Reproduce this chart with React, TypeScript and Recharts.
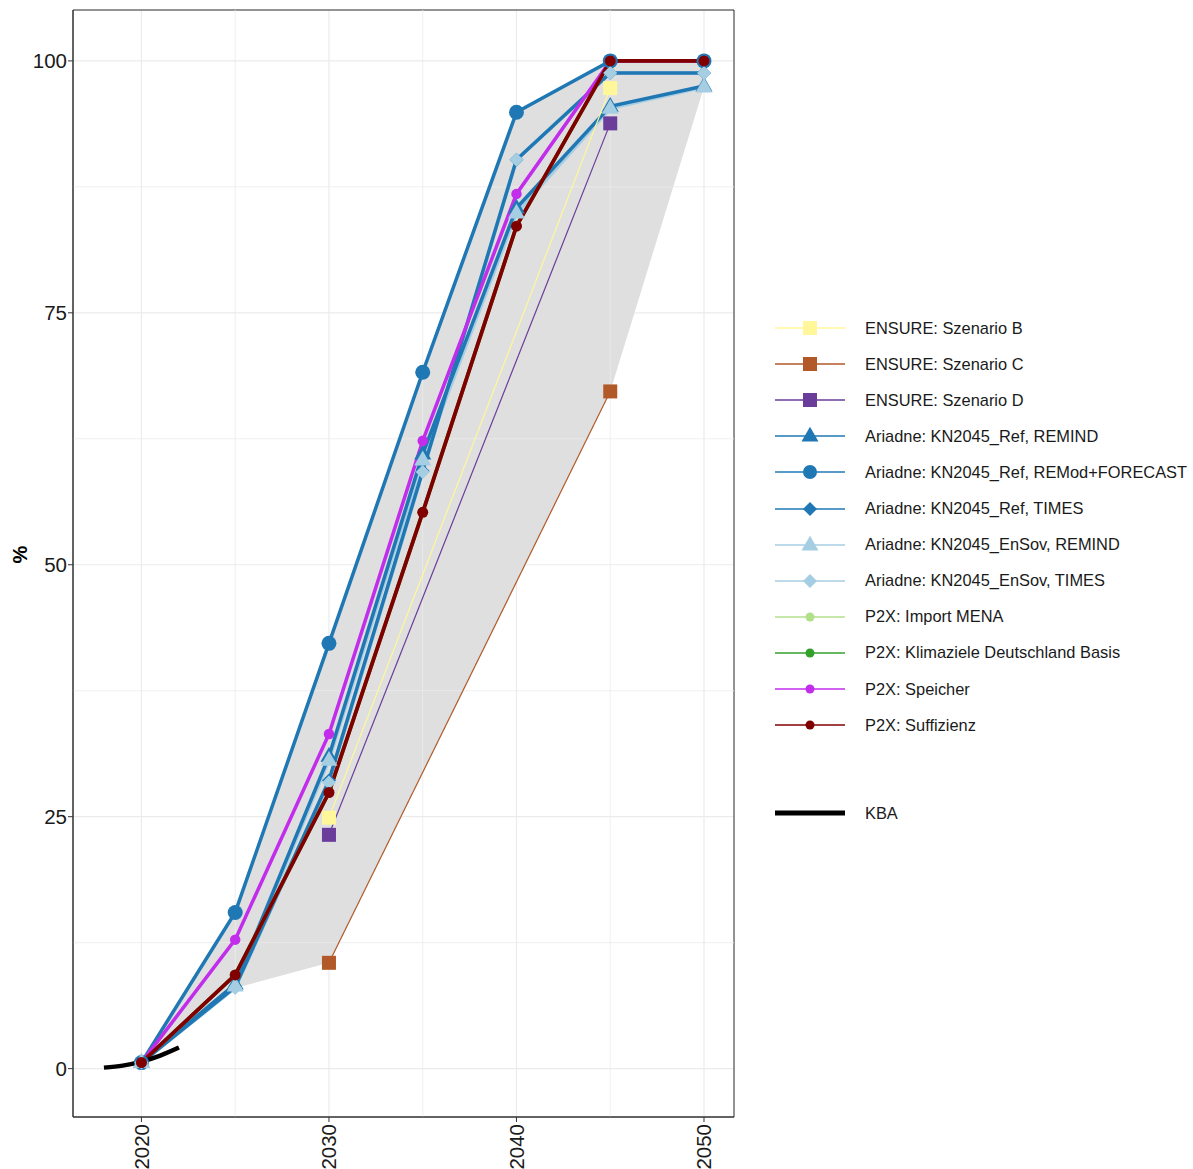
import React from 'react';
import {
  ComposedChart,
  Line,
  Area,
  XAxis,
  YAxis,
  CartesianGrid,
  ReferenceLine,
  ReferenceArea,
} from 'recharts';

const YEARS = [2020, 2025, 2030, 2035, 2040, 2045, 2050];
const ENSURE_YEARS = [2030, 2045];
const KBA_YEARS = [2018, 2019, 2020, 2021, 2022];

const ensureB = [24.9, 97.3];
const ensureC = [10.5, 67.2];
const ensureD = [23.2, 93.8];

const refRemind = [0.6, 8.4, 31.0, 61.0, 85.4, 95.5, 97.5];
const refRemod = [0.6, 15.5, 42.2, 69.1, 94.9, 100, 100];
const refTimes = [0.6, 8.1, 28.6, 59.3, 90.2, 98.8, 98.8];
const ensovRemind = [0.6, 8.2, 30.6, 60.4, 84.9, 95.3, 97.4];
const ensovTimes = [0.6, 8.0, 28.4, 59.2, 90.2, 98.8, 98.8];

const p2xMena = [0.6, 9.3, 27.4, 55.2, 83.6, 100, 100];
const p2xKlima = [0.6, 9.3, 27.4, 55.2, 83.6, 100, 100];
const p2xSpeicher = [0.6, 12.8, 33.2, 62.3, 86.8, 100, 100];
const p2xSuffizienz = [0.6, 9.3, 27.4, 55.2, 83.6, 100, 100];

const kba = [0.1, 0.3, 0.7, 1.3, 2.1];

const ribbonLow = [0.6, 8.0, 10.5, 29.4, 48.3, 67.2, 97.4];
const ribbonHigh = [0.6, 15.5, 42.2, 69.1, 94.9, 100, 100];

const X_TICKS = [2020, 2030, 2040, 2050];
const X_MINOR = [2025, 2035, 2045];
const Y_TICKS = [0, 25, 50, 75, 100];
const Y_MINOR = [12.5, 37.5, 62.5, 87.5];

const X_DOMAIN: [number, number] = [2016.35, 2051.6];
const Y_DOMAIN: [number, number] = [-4.8, 105.05];

const FONT = '"Liberation Sans", Arial, sans-serif';
const DARK_BLUE = '#1F78B4';
const LIGHT_BLUE = '#A6CEE3';

type Shape = 'square' | 'circle' | 'triangle' | 'diamond' | 'dot';

interface Series {
  name: string;
  years: number[];
  values: number[];
  color: string;
  shape: Shape;
  size: number;
  width: number;
}

const pts = (years: number[], values: number[]) => years.map((x, i) => ({ x, y: values[i] }));

const ensure: Series[] = [
  { name: 'ENSURE: Szenario B', years: ENSURE_YEARS, values: ensureB, color: '#FFF799', shape: 'square', size: 14, width: 1.2 },
  { name: 'ENSURE: Szenario C', years: ENSURE_YEARS, values: ensureC, color: '#B15928', shape: 'square', size: 14, width: 1.2 },
  { name: 'ENSURE: Szenario D', years: ENSURE_YEARS, values: ensureD, color: '#6A3D9A', shape: 'square', size: 14, width: 1.2 },
];

const ariadneRef: Series[] = [
  { name: 'Ariadne: KN2045_Ref, REMIND', years: YEARS, values: refRemind, color: DARK_BLUE, shape: 'triangle', size: 17, width: 3.5 },
  { name: 'Ariadne: KN2045_Ref, REMod+FORECAST', years: YEARS, values: refRemod, color: DARK_BLUE, shape: 'circle', size: 15, width: 3.5 },
  { name: 'Ariadne: KN2045_Ref, TIMES', years: YEARS, values: refTimes, color: DARK_BLUE, shape: 'diamond', size: 14, width: 3.5 },
];

const ariadneEnsov: Series[] = [
  { name: 'Ariadne: KN2045_EnSov, REMIND', years: YEARS, values: ensovRemind, color: LIGHT_BLUE, shape: 'triangle', size: 17, width: 3.5 },
  { name: 'Ariadne: KN2045_EnSov, TIMES', years: YEARS, values: ensovTimes, color: LIGHT_BLUE, shape: 'diamond', size: 14, width: 3.5 },
];

const p2x: Series[] = [
  { name: 'P2X: Import MENA', years: YEARS, values: p2xMena, color: '#B2DF8A', shape: 'dot', size: 10, width: 3.5 },
  { name: 'P2X: Klimaziele Deutschland Basis', years: YEARS, values: p2xKlima, color: '#33A02C', shape: 'dot', size: 10, width: 3.5 },
  { name: 'P2X: Speicher', years: YEARS, values: p2xSpeicher, color: '#C22DEB', shape: 'dot', size: 10.5, width: 3.5 },
  { name: 'P2X: Suffizienz', years: YEARS, values: p2xSuffizienz, color: '#800000', shape: 'dot', size: 11, width: 3.8 },
];

const lineOrder = [...ariadneEnsov, ...ariadneRef, ...ensure, ...p2x];
const markerOrder = [...ensure, ...ariadneRef, ...ariadneEnsov, ...p2x];
const legendOrder = [...ensure, ...ariadneRef, ...ariadneEnsov, ...p2x];

const ribbon = YEARS.map((x, i) => ({ x, range: [ribbonLow[i], ribbonHigh[i]] }));

function Marker({ cx, cy, shape, color, size }: { cx?: number; cy?: number; shape: Shape; color: string; size: number }) {
  if (cx == null || cy == null) return null;
  const s = size / 2;
  if (shape === 'square') return <rect x={cx - s} y={cy - s} width={size} height={size} fill={color} />;
  if (shape === 'triangle')
    return <polygon points={`${cx},${cy - s * 1.1} ${cx - s},${cy + s * 0.65} ${cx + s},${cy + s * 0.65}`} fill={color} />;
  if (shape === 'diamond')
    return <polygon points={`${cx},${cy - s} ${cx + s},${cy} ${cx},${cy + s} ${cx - s},${cy}`} fill={color} />;
  return <circle cx={cx} cy={cy} r={s} fill={color} />;
}

const XTick = (props: any) => {
  const { x, y, payload } = props;
  return (
    <text
      transform={`translate(${x},${y}) rotate(-90)`}
      textAnchor="end"
      dominantBaseline="central"
      fontSize={20.5}
      fontFamily={FONT}
      fill="#1a1a1a"
    >
      {payload.value}
    </text>
  );
};

const YTick = (props: any) => {
  const { x, y, payload } = props;
  return (
    <text x={x} y={y} textAnchor="end" dominantBaseline="central" fontSize={20.5} fontFamily={FONT} fill="#1a1a1a">
      {payload.value}
    </text>
  );
};

function LegendKey({ s }: { s: Series }) {
  return (
    <svg width={72} height={24} style={{ display: 'block' }}>
      <line x1={0} y1={12} x2={70} y2={12} stroke={s.color} strokeWidth={1.6} />
      <Marker cx={35} cy={12} shape={s.shape} color={s.color} size={s.shape === 'dot' ? 9 : s.shape === 'triangle' ? 17 : 14} />
    </svg>
  );
}

export default function App() {
  return (
    <div style={{ position: 'absolute', left: 0, top: 0, width: 1193, height: 1169, background: '#fff', fontFamily: FONT }}>
      <ComposedChart width={740} height={1169} margin={{ top: 10, right: 6, bottom: 0, left: 0 }}>
        <CartesianGrid stroke="#EBEBEB" strokeWidth={1.2} />
        {X_MINOR.map((v) => (
          <ReferenceLine key={`xm${v}`} x={v} stroke="#EBEBEB" strokeWidth={0.8} />
        ))}
        {Y_MINOR.map((v) => (
          <ReferenceLine key={`ym${v}`} y={v} stroke="#EBEBEB" strokeWidth={0.8} />
        ))}
        <XAxis
          type="number"
          dataKey="x"
          domain={X_DOMAIN}
          ticks={X_TICKS}
          allowDataOverflow
          height={52}
          tick={<XTick />}
          tickSize={5}
          tickMargin={2}
          tickLine={{ stroke: '#333' }}
          axisLine={{ stroke: '#333' }}
        />
        <YAxis
          type="number"
          domain={Y_DOMAIN}
          ticks={Y_TICKS}
          allowDataOverflow
          width={73}
          tick={<YTick />}
          tickSize={5}
          tickMargin={1}
          tickLine={{ stroke: '#333' }}
          axisLine={{ stroke: '#333' }}
          label={{
            value: '%',
            angle: -90,
            position: 'insideLeft',
            offset: 20,
            style: { fontSize: 20, fontWeight: 'bold', fontFamily: FONT, fill: '#000' },
          }}
        />
        <Area
          data={ribbon}
          dataKey="range"
          type="linear"
          stroke="none"
          fill="#DFDFDF"
          fillOpacity={1}
          isAnimationActive={false}
          dot={false}
          activeDot={false}
        />
        {lineOrder.map((s) => (
          <Line
            key={`l-${s.name}`}
            data={pts(s.years, s.values)}
            dataKey="y"
            type="linear"
            stroke={s.color}
            strokeWidth={s.width}
            dot={false}
            activeDot={false}
            connectNulls
            isAnimationActive={false}
          />
        ))}
        <Line
          data={pts(KBA_YEARS, kba)}
          dataKey="y"
          type="monotone"
          stroke="#000"
          strokeWidth={4.5}
          dot={false}
          activeDot={false}
          isAnimationActive={false}
        />
        {markerOrder.map((s) => (
          <Line
            key={`m-${s.name}`}
            data={pts(s.years, s.values)}
            dataKey="y"
            type="linear"
            stroke="none"
            dot={(p: any) => <Marker key={`${s.name}-${p.index}`} cx={p.cx} cy={p.cy} shape={s.shape} color={s.color} size={s.size} />}
            activeDot={false}
            isAnimationActive={false}
          />
        ))}
        <ReferenceArea
          x1={X_DOMAIN[0]}
          x2={X_DOMAIN[1]}
          y1={Y_DOMAIN[0]}
          y2={Y_DOMAIN[1]}
          fill="none"
          fillOpacity={0}
          stroke="#333"
          strokeWidth={1}
        />
      </ComposedChart>

      <div style={{ position: 'absolute', left: 775, top: 0 }}>
        {legendOrder.map((s, i) => (
          <div
            key={s.name}
            style={{ position: 'absolute', top: 328 - 12 + i * 36.1, left: 0, display: 'flex', alignItems: 'center', whiteSpace: 'nowrap' }}
          >
            <LegendKey s={s} />
            <span style={{ marginLeft: 18, fontSize: 16.4, color: '#1a1a1a' }}>{s.name}</span>
          </div>
        ))}
        <div style={{ position: 'absolute', top: 813 - 12, left: 0, display: 'flex', alignItems: 'center', whiteSpace: 'nowrap' }}>
          <svg width={72} height={24} style={{ display: 'block' }}>
            <line x1={0} y1={12} x2={70} y2={12} stroke="#000" strokeWidth={5} />
          </svg>
          <span style={{ marginLeft: 18, fontSize: 16.4, color: '#1a1a1a' }}>KBA</span>
        </div>
      </div>
    </div>
  );
}
